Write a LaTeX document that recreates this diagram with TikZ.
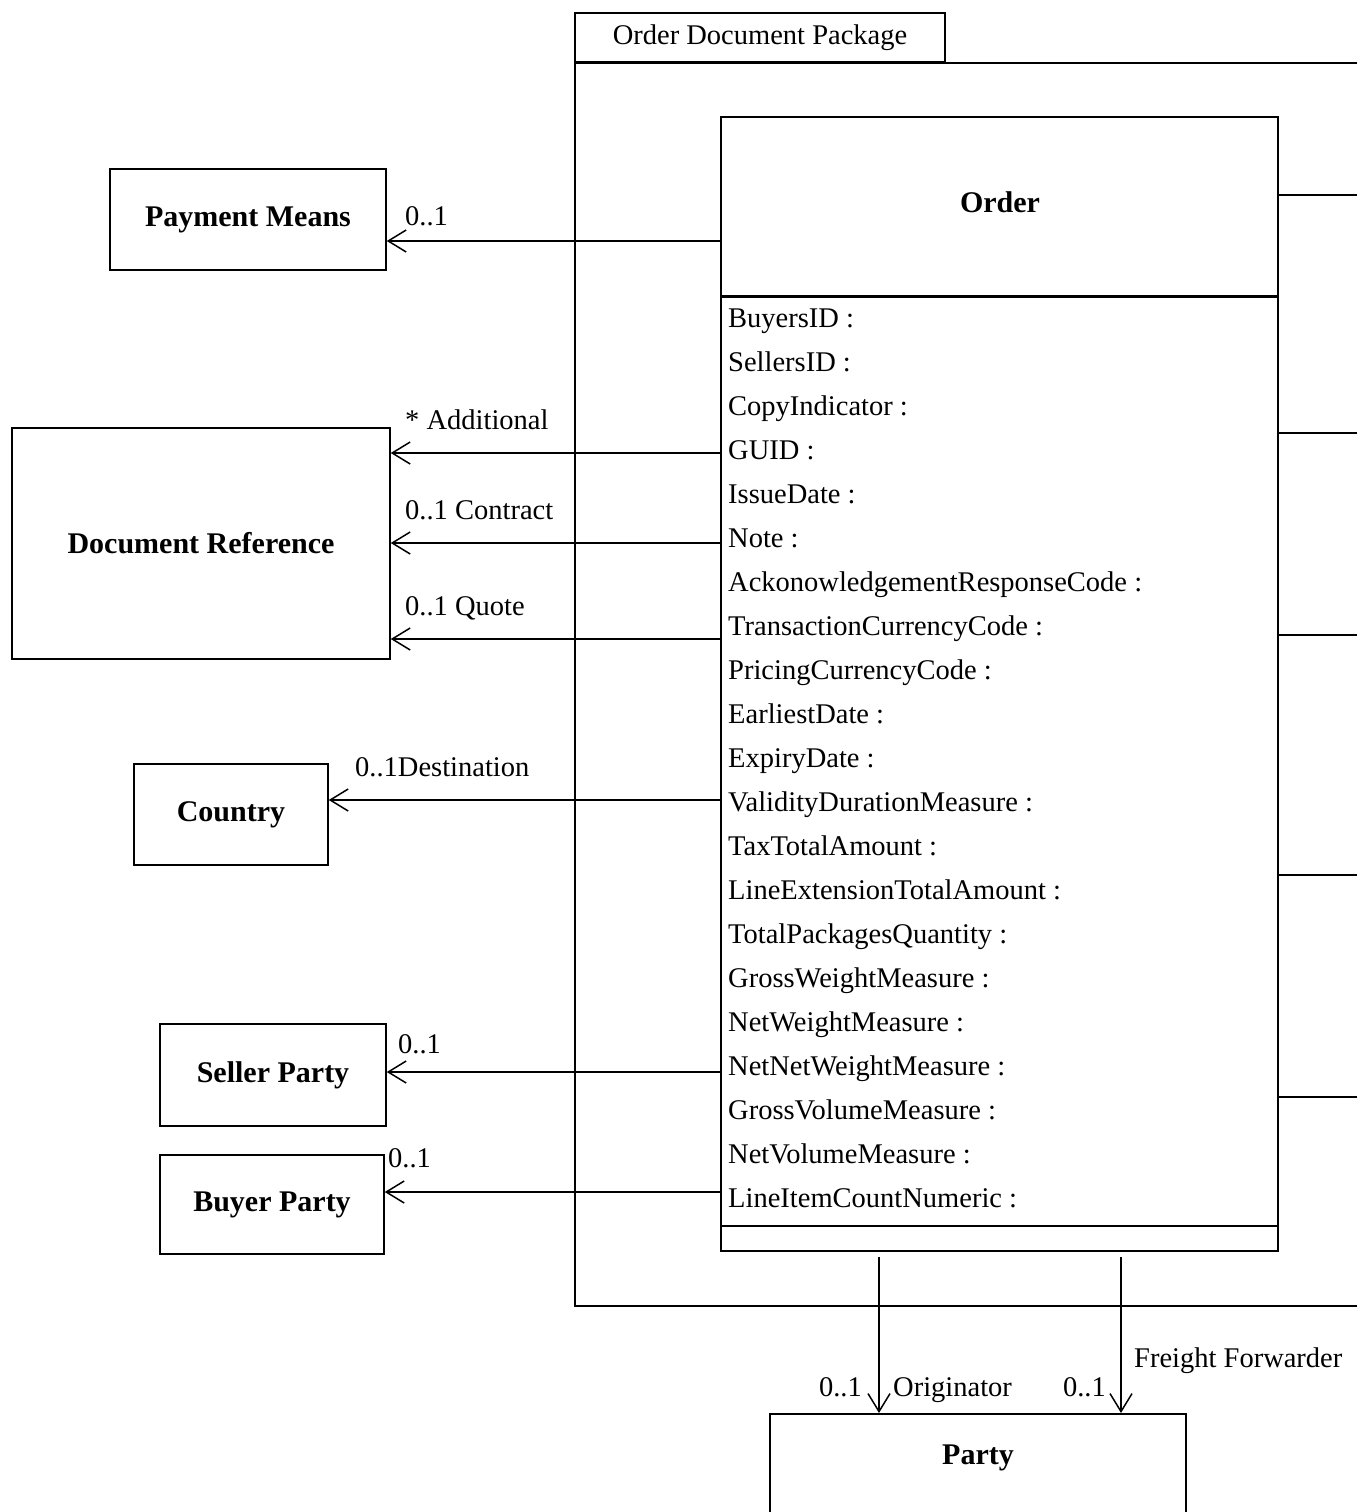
\documentclass[tikz,border=0pt]{standalone}
\usepackage{fontspec}
\setmainfont{Liberation Serif}
\usetikzlibrary{arrows.meta}

\tikzset{
  box/.style={draw, line width=1.5pt, inner sep=0pt},
  classname/.style={font=\fontsize{30}{36}\selectfont\bfseries},
  attr/.style={anchor=base west, inner sep=0pt, font=\fontsize{28.5}{34}\selectfont},
  role/.style={anchor=base west, inner sep=0pt, font=\fontsize{28.5}{34}\selectfont},
  assoc/.style={line width=1.5pt, -{Straight Barb[length=18pt,width=22pt,line width=1.5pt]}}
}

\begin{document}
\begin{tikzpicture}[x=1pt, y=-1pt]
				\useasboundingbox (0,0) rectangle (1357,1512);
				% package
				\node[box, outer sep=0pt, minimum width=370pt, minimum height=50pt, font=\fontsize{28.5}{34}\selectfont] (pkgtab) at (760,38) {Order Document Package};
				\draw[line width=1.5pt] (1357,63) -- (pkgtab.south west) -- (pkgtab.south west |- 0,1306) -- (1357,1306);
				\draw[line width=3pt] (pkgtab.south west) -- (pkgtab.south east);
				% order class
				\node[box, minimum width=557pt, minimum height=1134pt] (order) at (999.5,684) {};
				\node[classname] (ordername) at (1000,202) {Order};
				\draw[line width=3pt] (order.west |- 0,296) -- (order.east |- 0,296);
				\draw[line width=1.5pt] (order.west |- 0,1226) -- (order.east |- 0,1226);
				\foreach \attrname [count=\i] in {BuyersID, SellersID, CopyIndicator, GUID, IssueDate, Note,
					AckonowledgementResponseCode, TransactionCurrencyCode, PricingCurrencyCode, EarliestDate,
					ExpiryDate, ValidityDurationMeasure, TaxTotalAmount, LineExtensionTotalAmount,
					TotalPackagesQuantity, GrossWeightMeasure, NetWeightMeasure, NetNetWeightMeasure,
					GrossVolumeMeasure, NetVolumeMeasure, LineItemCountNumeric}
				\node[attr] (attr\i) at (728,{327+44*(\i-1)}) {\attrname\ :};
				% associated classes
				\node[box, minimum width=276pt, minimum height=101pt, classname] (paymeans) at (248,219.5) {Payment Means};
				\node[box, minimum width=378pt, minimum height=231pt, classname] (docref) at (201,543.5) {Document Reference};
				\node[box, minimum width=194pt, minimum height=101pt, classname] (country) at (231,814.5) {Country};
				\node[box, minimum width=226pt, minimum height=102pt, classname] (seller) at (273,1075) {Seller Party};
				\node[box, minimum width=224pt, minimum height=99pt, classname] (buyer) at (272,1204.5) {Buyer Party};
				\node[box, minimum width=416pt, minimum height=130pt, anchor=north] (party) at (978,1413) {};
				\node[classname] (partyname) at (978,1458) {Party};
				% associations to the left
				\draw[assoc] (order.west |- 0,241) -- (paymeans.east |- 0,241);
				\draw[assoc] (order.west |- 0,453) -- (docref.east |- 0,453);
				\draw[assoc] (order.west |- 0,543) -- (docref.east |- 0,543);
				\draw[assoc] (order.west |- 0,639) -- (docref.east |- 0,639);
				\draw[assoc] (order.west |- 0,800) -- (country.east |- 0,800);
				\draw[assoc] (order.west |- 0,1072) -- (seller.east |- 0,1072);
				\draw[assoc] (order.west |- 0,1192) -- (buyer.east |- 0,1192);
				\node[role] (pmmult) at (405,225) {0..1};
				\node[role] (addlabel) at (405,429) {* Additional};
				\node[role] (contlabel) at (405,519) {0..1 Contract};
				\node[role] (quotelabel) at (405,615) {0..1 Quote};
				\node[role] (destlabel) at (355,776) {0..1Destination};
				\node[role] (sellmult) at (398,1053) {0..1};
				\node[role] (buymult) at (388,1167) {0..1};
				% associations down to party
				\coordinate (origx) at (879,0);
				\coordinate (fwdx) at (1121,0);
				\draw[assoc] ([yshift=-5pt]order.south -| origx) -- (party.north -| origx);
				\draw[assoc] ([yshift=-5pt]order.south -| fwdx) -- (party.north -| fwdx);
				\node[role, anchor=base east] (origmult) at (862,1396) {0..1};
				\node[role] (origlabel) at (893,1396) {Originator};
				\node[role, anchor=base east] (fwdmult) at (1106,1396) {0..1};
				\node[role] (fwdlabel) at (1134,1367) {Freight Forwarder};
				% associations leaving to the right
				\foreach \y in {195,433,635,875,1097}
				\draw[line width=1.5pt] (order.east |- 0,\y) -- (1357,\y);
			\end{tikzpicture}
\end{document}
